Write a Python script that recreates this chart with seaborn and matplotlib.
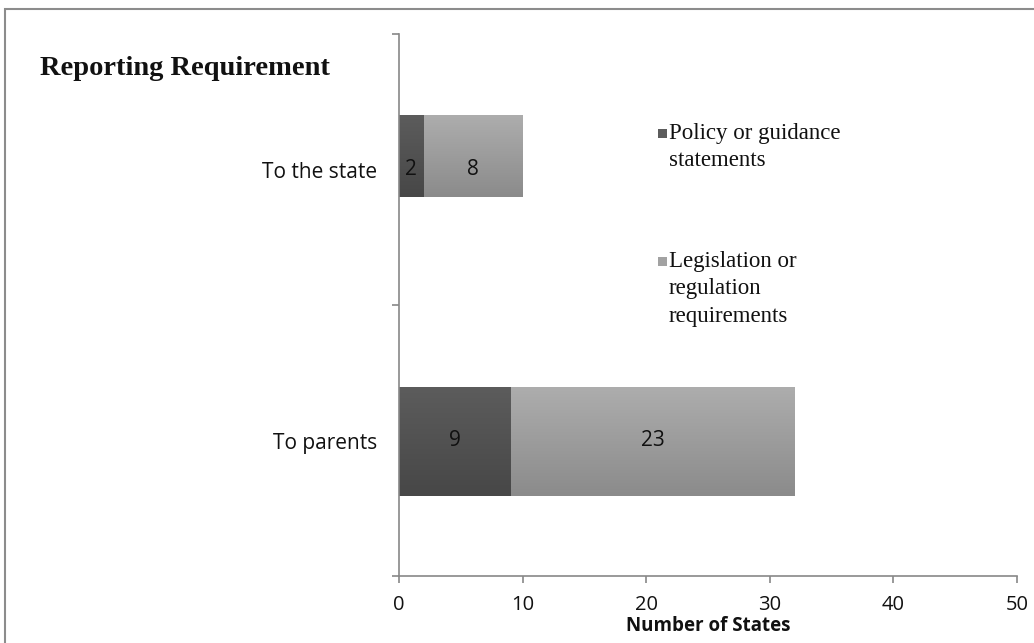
import numpy as np
import pandas as pd
import matplotlib
matplotlib.use("Agg")
import matplotlib.pyplot as plt
import seaborn as sns
from matplotlib.colors import LinearSegmentedColormap
from matplotlib.patches import Rectangle

# Data
categories = ["To the state", "To parents"]
policy = [2, 9]
legislation = [8, 23]
series_names = ["Policy or guidance\nstatements", "Legislation or\nregulation\nrequirements"]
x_ticks = [0, 10, 20, 30, 40, 50]

# Styling
dark_top, dark_bottom = "#5c5c5c", "#474747"
light_top, light_bottom = "#adadad", "#8b8b8b"
axis_color = "#888888"
bar_thickness = [0.30, 0.40]
bar_shift = [-0.05, 0.004]

sns.set_theme(style="white")
plt.rcParams["font.family"] = ["Open Sans", "DejaVu Sans"]

W, H = 1034, 643
fig = plt.figure(figsize=(W / 100, H / 100), dpi=100)
ax = fig.add_axes([399 / W, 1 - 576 / H, (1017 - 399) / W, (576 - 34) / H])

totals = [p + l for p, l in zip(policy, legislation)]
df = pd.DataFrame({"category": categories, "policy": policy,
                   "legislation": legislation, "total": totals})

sns.barplot(data=df, y="category", x="total", color=light_top, width=0.4,
            orient="h", saturation=1, ax=ax)
sns.barplot(data=df, y="category", x="policy", color=dark_top, width=0.4,
            orient="h", saturation=1, ax=ax)

n = len(categories)
light_patches = ax.patches[:n]
dark_patches = ax.patches[n:2 * n]

grad = np.linspace(0, 1, 128).reshape(-1, 1)
cmap_dark = LinearSegmentedColormap.from_list("dark", [dark_top, dark_bottom])
cmap_light = LinearSegmentedColormap.from_list("light", [light_top, light_bottom])

for group, cmap, z in ((light_patches, cmap_light, 2.1), (dark_patches, cmap_dark, 2.2)):
    for i, p in enumerate(group):
        h = bar_thickness[i]
        p.set_y(i + bar_shift[i] - h / 2)
        p.set_height(h)
        p.set_edgecolor("none")
        p.set_zorder(z)
        x0, y0 = p.get_x(), p.get_y()
        im = ax.imshow(grad, cmap=cmap, aspect="auto", origin="upper",
                       extent=(x0, x0 + p.get_width(), y0 + h, y0),
                       zorder=z + 0.05)
        im.set_clip_path(p)

# Segment value labels
for i in range(n):
    ax.text(policy[i] / 2, i, str(policy[i]), ha="center", va="center",
            fontsize=15, color="#111111", zorder=10)
    ax.text(policy[i] + legislation[i] / 2, i, str(legislation[i]),
            ha="center", va="center", fontsize=15, color="#111111", zorder=10)

ax.set_xlim(0, 50)
ax.set_ylim(n - 0.5, -0.5)
ax.set_xticks(x_ticks)
ax.set_xticklabels([str(t) for t in x_ticks], fontsize=14.5)
ax.set_yticks([-0.5, 0.5, 1.5], labels=["", "", ""])
ax.set_yticks(range(n), labels=categories, minor=True)
ax.set_ylabel("")

for side in ("top", "right"):
    ax.spines[side].set_visible(False)
for side in ("left", "bottom"):
    ax.spines[side].set_color(axis_color)
    ax.spines[side].set_linewidth(1.2)

ax.tick_params(axis="both", which="major", direction="out", length=5,
               width=1.2, color=axis_color, labelcolor="#111111")
ax.tick_params(axis="x", which="major", pad=9, bottom=True)
ax.tick_params(axis="y", which="major", left=True)
ax.tick_params(axis="y", which="minor", length=0, pad=16, labelsize=15,
               labelcolor="#111111", left=True)

ax.set_xlabel("Number of States", fontsize=13.5, fontweight="bold", color="#111111")
ax.xaxis.set_label_coords(0.5, -0.074)
ax.xaxis.label.set_va("top")

# Title
fig.text(40 / W, 1 - 75 / H, "Reporting Requirement", fontsize=20.5,
         fontweight="bold", family="Liberation Serif", color="#111111",
         va="baseline", ha="left")

# Legend, one text line at a time
legend_colors = [dark_top, "#a2a2a2"]
legend_baselines = [139, 267]
line_step = 27.5
for name, col, base in zip(series_names, legend_colors, legend_baselines):
    for k, line in enumerate(name.split("\n")):
        fig.text(669 / W, 1 - (base + k * line_step) / H, line, fontsize=16.5,
                 family="Liberation Serif", color="#111111",
                 va="baseline", ha="left")
    fig.add_artist(Rectangle((658 / W, 1 - (base - 1) / H), 9 / W, 9 / H,
                             transform=fig.transFigure, facecolor=col,
                             edgecolor="none"))

# Outer frame
fig.add_artist(Rectangle((5 / W, -0.5), 2.0, 1 - 9 / H + 0.5,
                         transform=fig.transFigure, fill=False,
                         edgecolor="#8c8c8c", linewidth=1.5))

fig.savefig("out.png", dpi=100)
